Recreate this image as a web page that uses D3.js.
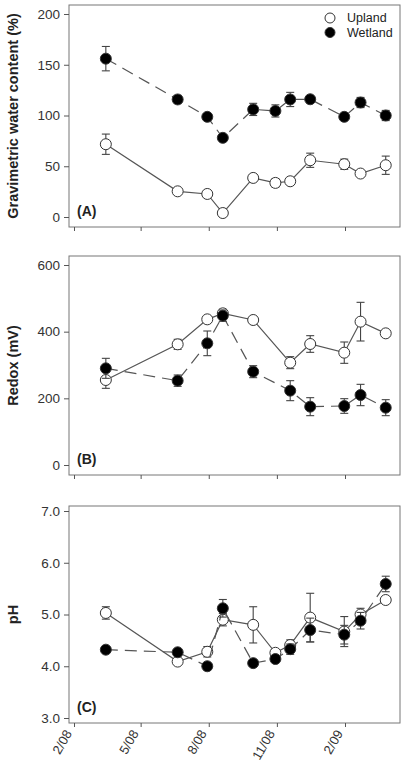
<!DOCTYPE html>
<html>
<head>
<meta charset="utf-8">
<script src="https://cdn.jsdelivr.net/npm/d3@7"></script>
<style>
  body { margin: 0; background: #fff; }
  svg { font-family: "Liberation Sans", Arial, sans-serif; }
</style>
</head>
<body>
<div id="chart"></div>
<script>
const svgWidth = 405;
const svgHeight = 767;

// sampling dates
const dates = ["2008-03-15", "2008-06-20", "2008-07-30", "2008-08-20", "2008-09-30", "2008-10-30",
               "2008-11-19", "2008-12-16", "2009-01-31", "2009-02-22", "2009-03-28"];
const xTicks = ["2008-02-01", "2008-05-01", "2008-08-01", "2008-11-01", "2009-02-01"];
const xTickLabels = ["2/08", "5/08", "8/08", "11/08", "2/09"];

// (A) gravimetric water content
const uplandWater = [71.7, 25.3, 22.7, 3.9, 38.5, 33.6, 35.2, 55.9, 52, 42.8, 51];
const uplandWaterErr = [10, 2, 2, 1, 3, 4, 3, 7, 5, 2, 9];
const wetlandWater = [156, 115.8, 98.7, 78, 106, 104.5, 115.8, 116, 98.7, 112.8, 100];
const wetlandWaterErr = [12, 4, 3, 3, 6, 6, 7, 2, 2, 5, 5];
const waterTicks = [0, 50, 100, 150, 200];

// (B) redox
const uplandRedox = [255, 362, 437, 455, 435, null, 307, 363, 337, 430, 395];
const uplandRedoxErr = [25, 15, 8, 12, 5, null, 18, 25, 32, 58, 8];
const wetlandRedox = [290, 253, 365, 448, 280, null, 223, 175, 177, 210, 172];
const wetlandRedoxErr = [30, 17, 37, 17, 18, null, 30, 27, 22, 32, 24];
const redoxTicks = [0, 200, 400, 600];

// (C) pH
const uplandPH = [5.03, 4.09, 4.28, 4.9, 4.8, 4.26, 4.41, 4.94, 4.67, 5.0, 5.28];
const uplandPHErr = [0.12, 0.05, 0.1, 0.12, 0.35, 0.06, 0.1, 0.47, 0.29, 0.12, 0.05];
const wetlandPH = [4.32, 4.27, 4.0, 5.12, 4.06, 4.14, 4.33, 4.7, 4.61, 4.88, 5.59];
const wetlandPHErr = [0.06, 0.05, 0.03, 0.17, 0.03, 0.04, 0.1, 0.23, 0.18, 0.16, 0.15];
const phTicks = [3, 4, 5, 6, 7];

const seriesNames = ["Upland", "Wetland"];

const panels = [
    { label: "(A)", title: "Gravimetric water content (%)", domain: [0, 200], ticks: waterTicks, fmt: d3.format("d"),
      upland: uplandWater, uplandErr: uplandWaterErr, wetland: wetlandWater, wetlandErr: wetlandWaterErr,
      top: 5, rangeTop: 14, rangeBottom: 217, bottom: 227 },
    { label: "(B)", title: "Redox (mV)", domain: [0, 600], ticks: redoxTicks, fmt: d3.format("d"),
      upland: uplandRedox, uplandErr: uplandRedoxErr, wetland: wetlandRedox, wetlandErr: wetlandRedoxErr,
      top: 256, rangeTop: 265, rangeBottom: 465, bottom: 475 },
    { label: "(C)", title: "pH", domain: [3, 7], ticks: phTicks, fmt: d3.format(".1f"),
      upland: uplandPH, uplandErr: uplandPHErr, wetland: wetlandPH, wetlandErr: wetlandPHErr,
      top: 506, rangeTop: 511, rangeBottom: 718, bottom: 723 }
];

const parse = d3.timeParse("%Y-%m-%d");
const frameLeft = 69, frameRight = 400;

const x = d3.scaleTime()
    .domain([parse("2008-02-01"), parse("2009-02-01")])
    .range([74, 345]);

const svg = d3.select("#chart")
    .append("svg")
    .attr("width", svgWidth)
    .attr("height", svgHeight);

panels.forEach((p, pi) => {
    const y = d3.scaleLinear().domain(p.domain).range([p.rangeBottom, p.rangeTop]);
    const g = svg.append("g");

    // frame
    g.append("rect")
        .attr("x", frameLeft)
        .attr("y", p.top)
        .attr("width", frameRight - frameLeft)
        .attr("height", p.bottom - p.top)
        .attr("fill", "none")
        .attr("stroke", "#777")
        .attr("stroke-width", 1);

    // y axis
    const yAxis = g.append("g")
        .attr("transform", `translate(${frameLeft}, 0)`)
        .call(d3.axisLeft(y).tickValues(p.ticks).tickFormat(p.fmt).tickSize(5).tickPadding(4));
    yAxis.select(".domain").remove();
    yAxis.selectAll(".tick line").attr("stroke", "#555");
    yAxis.selectAll("text").style("font-size", "13.5px").attr("fill", "#333");

    // x axis
    const xAxis = g.append("g")
        .attr("transform", `translate(0, ${p.bottom})`)
        .call(d3.axisBottom(x).tickValues(xTicks.map(parse)).tickSize(4)
            .tickFormat((d, i) => pi === 2 ? xTickLabels[i] : ""));
    xAxis.select(".domain").remove();
    xAxis.selectAll(".tick line").attr("stroke", "#555");
    xAxis.selectAll("text")
        .style("font-size", "13px")
        .attr("fill", "#333")
        .attr("text-anchor", "end")
        .attr("dy", "0.35em")
        .attr("transform", "translate(-6, 8) rotate(-60)")
        .attr("x", 0)
        .attr("y", 0);

    // y title
    g.append("text")
        .attr("transform", `translate(18, ${(p.top + p.bottom) / 2}) rotate(-90)`)
        .attr("text-anchor", "middle")
        .style("font-size", "14.5px")
        .style("font-weight", "bold")
        .attr("fill", "#222")
        .text(p.title);

    // panel label
    g.append("text")
        .attr("x", 77)
        .attr("y", p.bottom - 11)
        .style("font-size", "14px")
        .style("font-weight", "bold")
        .attr("fill", "#222")
        .text(p.label);

    const series = [
        { vals: p.upland, errs: p.uplandErr, fill: "#fff", dash: null },
        { vals: p.wetland, errs: p.wetlandErr, fill: "#000", dash: "12,7" }
    ];

    series.forEach(s => {
        const pts = dates.map((d, i) => ({ date: parse(d), v: s.vals[i], e: s.errs[i] }))
            .filter(d => d.v !== null);

        const line = d3.line().x(d => x(d.date)).y(d => y(d.v));
        g.append("path")
            .datum(pts)
            .attr("d", line)
            .attr("fill", "none")
            .attr("stroke", "#555")
            .attr("stroke-width", 1.2)
            .attr("stroke-dasharray", s.dash);

        const eb = g.append("g").attr("stroke", "#444").attr("stroke-width", 1.1);
        pts.forEach(d => {
            const cx = x(d.date);
            eb.append("line").attr("x1", cx).attr("x2", cx).attr("y1", y(d.v - d.e)).attr("y2", y(d.v + d.e));
            eb.append("line").attr("x1", cx - 4).attr("x2", cx + 4).attr("y1", y(d.v - d.e)).attr("y2", y(d.v - d.e));
            eb.append("line").attr("x1", cx - 4).attr("x2", cx + 4).attr("y1", y(d.v + d.e)).attr("y2", y(d.v + d.e));
        });

        g.append("g")
            .selectAll("circle")
            .data(pts)
            .enter().append("circle")
            .attr("cx", d => x(d.date))
            .attr("cy", d => y(d.v))
            .attr("r", 5.5)
            .attr("fill", s.fill)
            .attr("stroke", "#333")
            .attr("stroke-width", 1);
    });

    if (pi === 0) {
        const legend = g.append("g").attr("transform", "translate(330, 18)");
        seriesNames.forEach((name, i) => {
            const lg = legend.append("g").attr("transform", `translate(0, ${i * 14.5})`);
            lg.append("circle")
                .attr("r", 5)
                .attr("fill", i === 0 ? "#fff" : "#000")
                .attr("stroke", "#333");
            lg.append("text")
                .attr("x", 17)
                .attr("dy", "0.35em")
                .style("font-size", "12.5px")
                .attr("fill", "#222")
                .text(name);
        });
    }
});
</script>
</body>
</html>
